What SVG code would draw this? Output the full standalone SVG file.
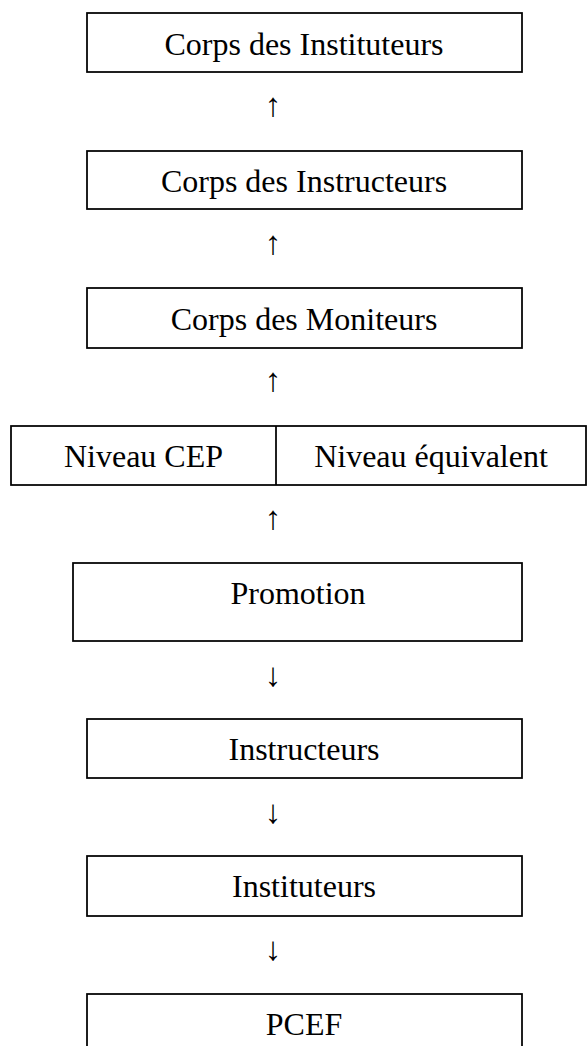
<svg xmlns="http://www.w3.org/2000/svg" width="587" height="1046" viewBox="0 0 587 1046">
  <style>
    .box { fill: #ffffff; stroke: #000000; stroke-width: 1.75; }
    .lbl { font-family: "Liberation Serif", "Times New Roman", serif; font-size: 32px; fill: #000000; text-anchor: middle; }
    .arw { font-family: "Liberation Serif", "DejaVu Serif", serif; font-size: 33px; fill: #000000; text-anchor: middle; }
  </style>
  <rect width="587" height="1046" fill="#ffffff"/>

  <g id="corps-instituteurs">
    <rect class="box" x="87" y="13" width="435" height="59"/>
    <text class="lbl" x="304" y="55">Corps des Instituteurs</text>
  </g>
  <g id="corps-instructeurs">
    <rect class="box" x="87" y="151" width="435" height="58"/>
    <text class="lbl" x="304" y="192">Corps des Instructeurs</text>
  </g>
  <g id="corps-moniteurs">
    <rect class="box" x="87" y="288" width="435" height="60"/>
    <text class="lbl" x="304" y="330">Corps des Moniteurs</text>
  </g>
  <g id="niveau">
    <rect class="box" x="11" y="426" width="575" height="59"/>
    <line class="box" x1="276" y1="426" x2="276" y2="485"/>
    <text class="lbl" x="143.5" y="467">Niveau CEP</text>
    <text class="lbl" x="431" y="467">Niveau équivalent</text>
  </g>
  <g id="promotion">
    <rect class="box" x="73" y="563" width="449" height="78"/>
    <text class="lbl" x="298" y="604">Promotion</text>
  </g>
  <g id="instructeurs">
    <rect class="box" x="87" y="719" width="435" height="59"/>
    <text class="lbl" x="304" y="760">Instructeurs</text>
  </g>
  <g id="instituteurs">
    <rect class="box" x="87" y="856" width="435" height="60"/>
    <text class="lbl" x="304" y="897">Instituteurs</text>
  </g>
  <g id="pcef">
    <rect class="box" x="87" y="994" width="435" height="60"/>
    <text class="lbl" x="304" y="1035">PCEF</text>
  </g>

  <!-- vertical arrows between the levels, set as glyphs like the labels -->
  <g id="connectors">
    <text class="arw" x="273" y="116">↑</text>
    <text class="arw" x="273" y="254">↑</text>
    <text class="arw" x="273" y="391">↑</text>
    <text class="arw" x="273" y="529">↑</text>
    <text class="arw" x="273" y="686">↓</text>
    <text class="arw" x="273" y="823">↓</text>
    <text class="arw" x="273" y="960">↓</text>
  </g>
</svg>
